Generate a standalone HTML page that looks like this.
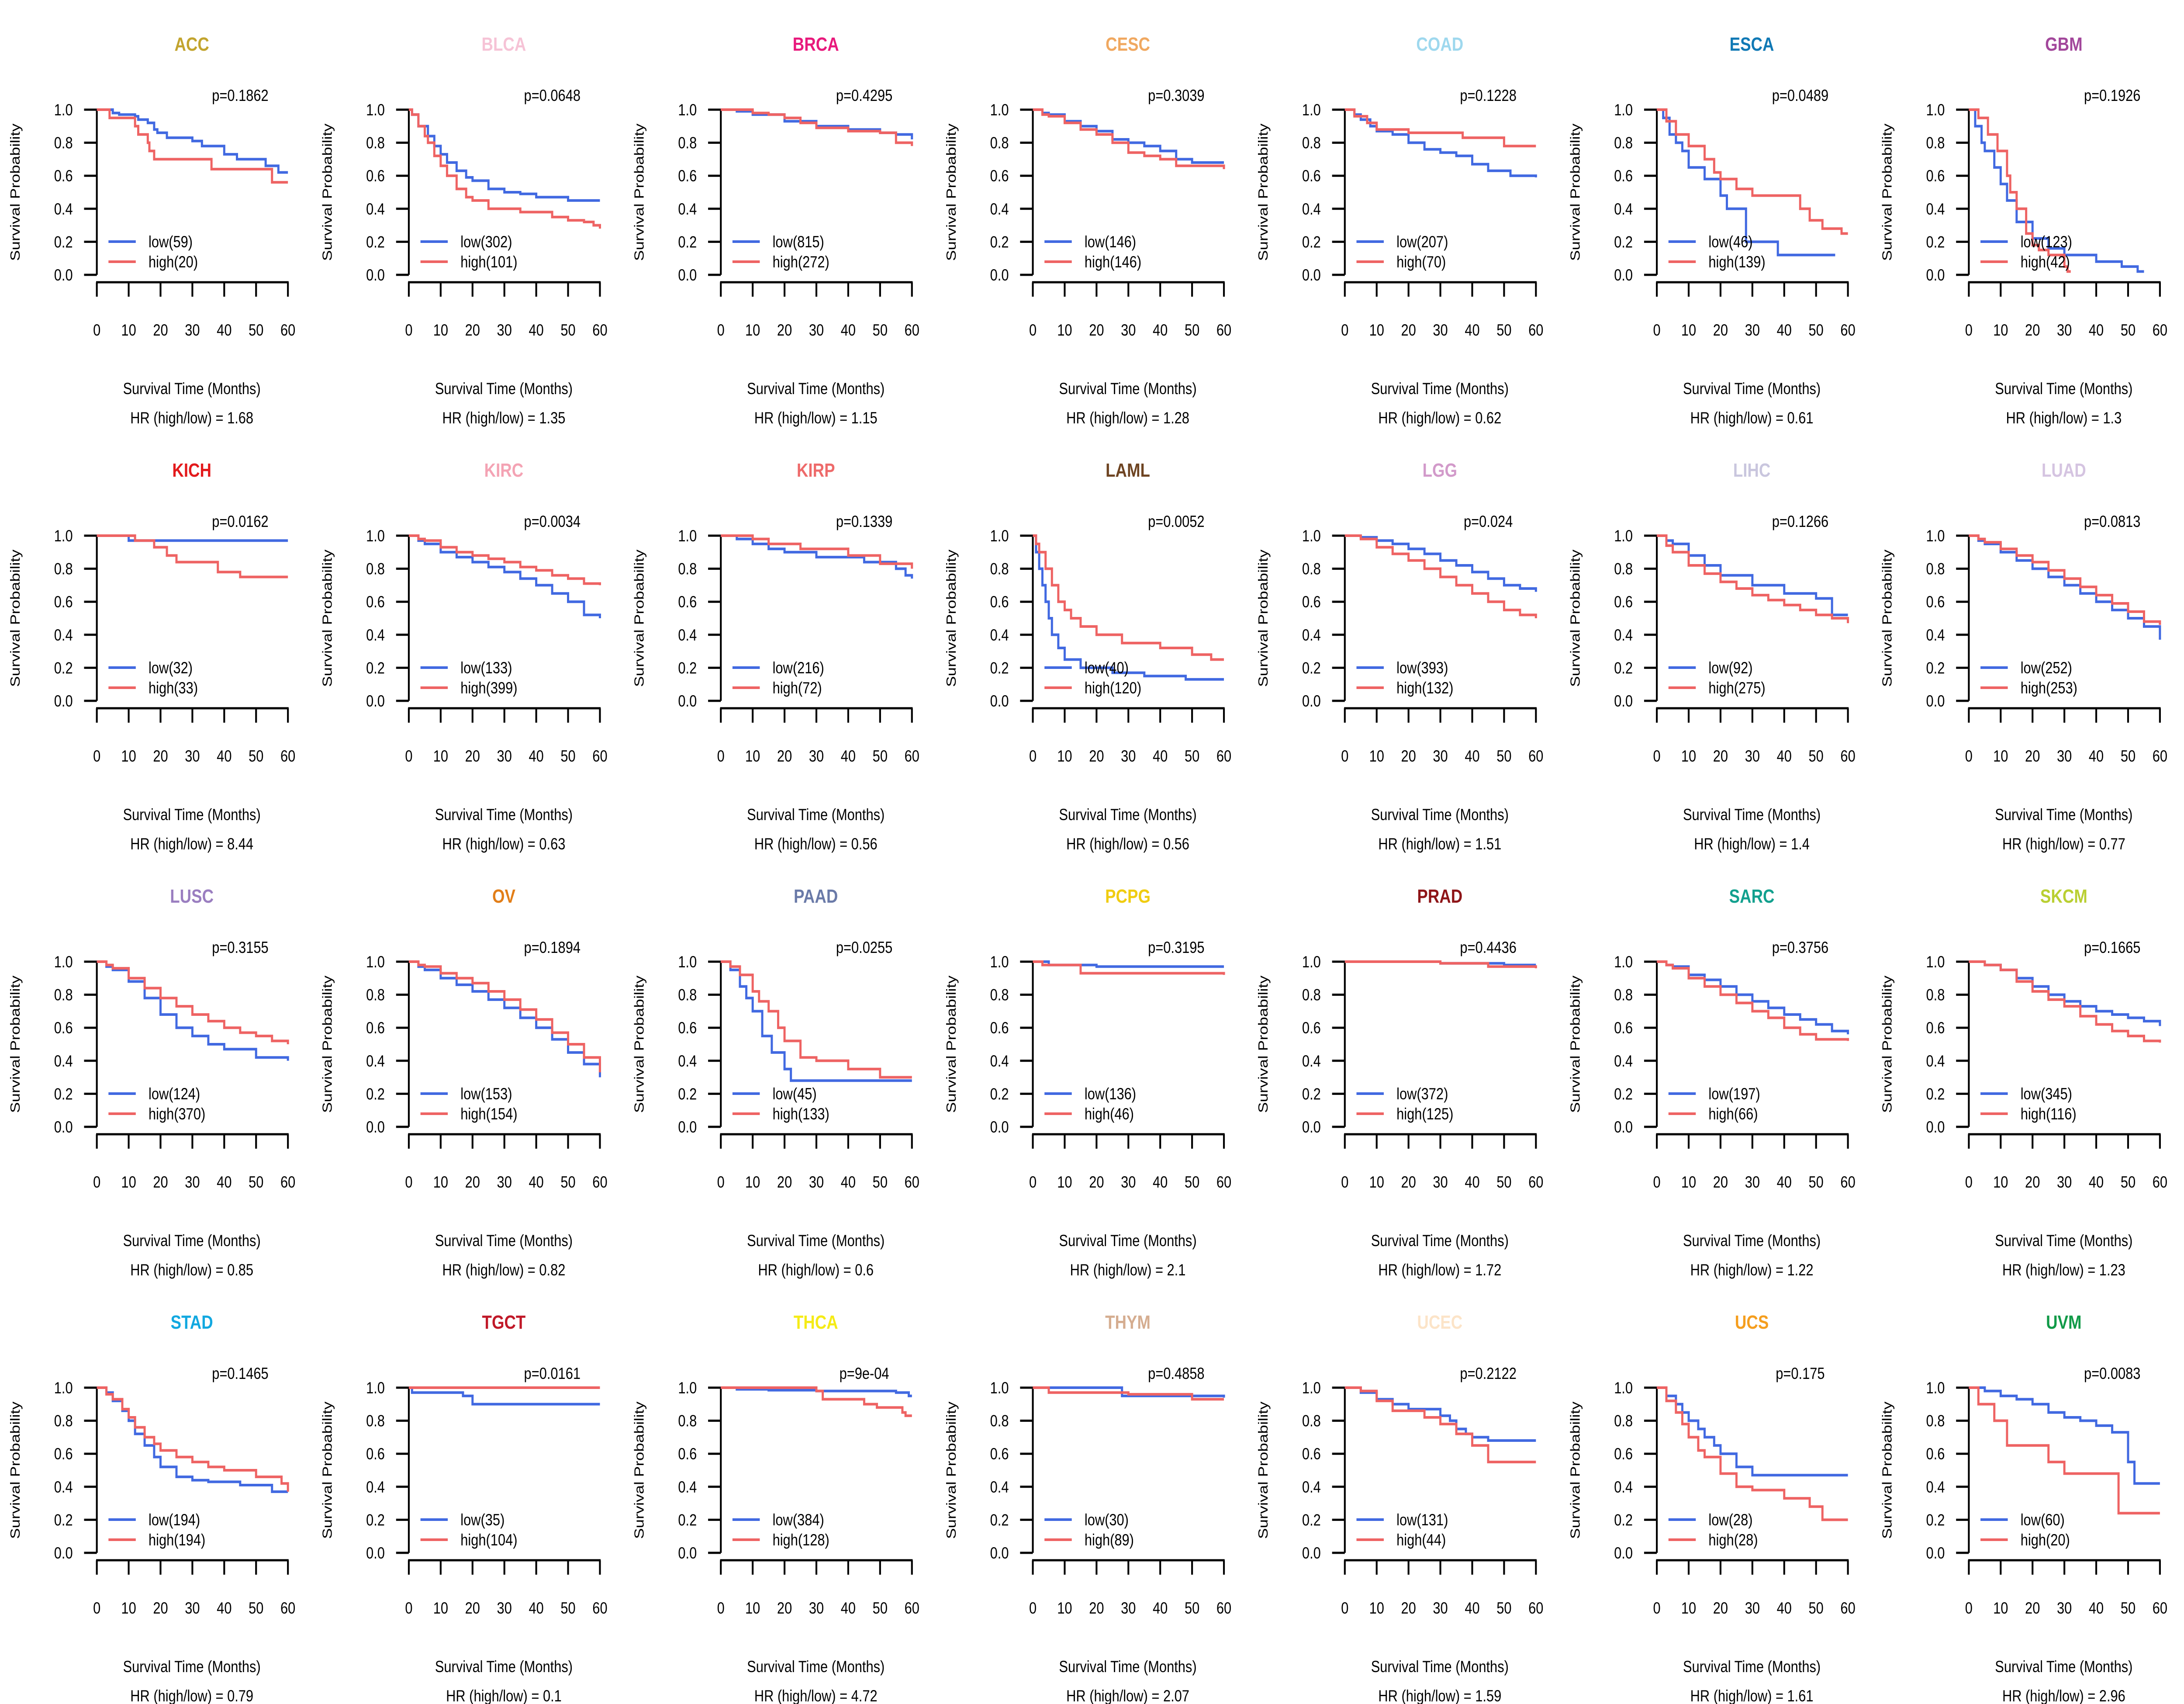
<!DOCTYPE html>
<html><head><meta charset="utf-8">
<style>
html,body{margin:0;padding:0;background:#fff;overflow:hidden;width:100%;height:100%;}
svg{display:block;width:100vw;height:100vh;font-family:"Liberation Sans",Arial,sans-serif;}
</style></head>
<body>
<svg id="chart" xmlns="http://www.w3.org/2000/svg" viewBox="0 0 6000 3900" preserveAspectRatio="none"></svg>
<script>
const cancers=["ACC","BLCA","BRCA","CESC","COAD","ESCA","GBM","KICH","KIRC","KIRP","LAML","LGG","LIHC","LUAD","LUSC","OV","PAAD","PCPG","PRAD","SARC","SKCM","STAD","TGCT","THCA","THYM","UCEC","UCS","UVM"];
const titleColors=["#C2A42E","#F6C3D6","#E8197C","#F0A860","#9ED8EE","#1079B5","#A2479B","#E31A1C","#F4A3B4","#EE6A6A","#6E4422","#D29ACA","#C9C6DE","#D5C4E1","#9A7EC0","#E27E18","#6A7AA8","#F0CC10","#8E1518","#12A08E","#B9CF32","#12A8E0","#C01828","#F5EB16","#D5AD90","#FCE4C8","#F59E1E","#119A48"];
const pvals=["p=0.1862","p=0.0648","p=0.4295","p=0.3039","p=0.1228","p=0.0489","p=0.1926","p=0.0162","p=0.0034","p=0.1339","p=0.0052","p=0.024","p=0.1266","p=0.0813","p=0.3155","p=0.1894","p=0.0255","p=0.3195","p=0.4436","p=0.3756","p=0.1665","p=0.1465","p=0.0161","p=9e-04","p=0.4858","p=0.2122","p=0.175","p=0.0083"];
const hrs=["1.68","1.35","1.15","1.28","0.62","0.61","1.3","8.44","0.63","0.56","0.56","1.51","1.4","0.77","0.85","0.82","0.6","2.1","1.72","1.22","1.23","0.79","0.1","4.72","2.07","1.59","1.61","2.96"];
const nLow=[59,302,815,146,207,46,123,32,133,216,40,393,92,252,124,153,45,136,372,197,345,194,35,384,30,131,28,60];
const nHigh=[20,101,272,146,70,139,42,33,399,72,120,132,275,253,370,154,133,46,125,66,116,194,104,128,89,44,28,20];
const xTicks=[0,10,20,30,40,50,60];
const yTicks=[0,0.2,0.4,0.6,0.8,1.0];
const lowCurves=[
[[5,.98],[7,.97],[12,.96],[13,.94],[16,.92],[18,.88],[19,.86],[22,.83],[30,.81],[33,.78],[40,.73],[44,.70],[53,.66],[57,.62],[60,.62]],
[[1,.97],[3,.90],[6,.84],[8,.78],[10,.73],[12,.68],[15,.63],[18,.59],[20,.57],[25,.52],[30,.50],[35,.49],[40,.47],[50,.45],[60,.45]],
[[5,.99],[10,.97],[20,.93],[30,.90],[40,.88],[50,.86],[55,.85],[60,.82]],
[[3,.98],[5,.97],[10,.93],[15,.90],[20,.87],[25,.82],[30,.80],[35,.78],[40,.75],[45,.70],[50,.68],[60,.68]],
[[3,.97],[5,.94],[8,.90],[10,.87],[15,.85],[20,.80],[25,.76],[30,.74],[35,.72],[40,.67],[45,.63],[52,.60],[60,.59]],
[[2,.95],[4,.85],[6,.80],[8,.75],[10,.65],[15,.58],[20,.48],[22,.40],[28,.20],[38,.12],[56,.12]],
[[2,.90],[4,.80],[5,.75],[8,.65],[10,.55],[12,.45],[15,.32],[20,.22],[25,.16],[30,.12],[40,.08],[48,.05],[53,.02],[55,.02]],
[[10,.97],[60,.97]],
[[3,.97],[5,.95],[10,.90],[15,.87],[20,.84],[25,.81],[30,.78],[35,.74],[40,.70],[45,.65],[50,.60],[55,.52],[60,.50]],
[[5,.98],[10,.95],[15,.92],[20,.90],[30,.87],[45,.84],[55,.80],[58,.76],[60,.74]],
[[1,.90],[2,.80],[3,.70],[4,.60],[5,.50],[6,.40],[8,.32],[10,.25],[15,.20],[25,.17],[35,.15],[48,.13],[60,.13]],
[[5,.99],[10,.97],[15,.95],[20,.92],[25,.89],[30,.85],[35,.82],[40,.78],[45,.74],[50,.70],[55,.68],[60,.66]],
[[3,.97],[5,.95],[10,.88],[15,.82],[20,.76],[30,.70],[40,.65],[50,.62],[55,.52],[60,.52]],
[[3,.97],[5,.95],[10,.90],[15,.85],[20,.80],[25,.75],[30,.70],[35,.65],[40,.60],[45,.55],[50,.50],[55,.45],[60,.37]],
[[3,.97],[5,.95],[10,.88],[15,.78],[20,.68],[25,.60],[30,.55],[35,.50],[40,.47],[50,.42],[60,.40]],
[[3,.97],[5,.95],[10,.90],[15,.86],[20,.82],[25,.77],[30,.72],[35,.66],[40,.60],[45,.53],[50,.45],[55,.38],[60,.30]],
[[3,.95],[6,.85],[8,.78],[10,.70],[13,.55],[16,.45],[20,.35],[22,.28],[60,.28]],
[[5,.98],[20,.97],[60,.97]],
[[30,.99],[50,.98],[60,.98]],
[[3,.98],[5,.97],[10,.92],[15,.89],[20,.85],[25,.80],[30,.76],[35,.72],[40,.68],[45,.65],[50,.62],[55,.58],[60,.56]],
[[5,.98],[10,.95],[15,.90],[20,.85],[25,.80],[30,.76],[35,.73],[40,.70],[45,.68],[50,.66],[55,.64],[60,.61]],
[[3,.97],[5,.92],[8,.86],[10,.80],[12,.72],[15,.65],[18,.58],[20,.52],[25,.46],[30,.44],[35,.43],[45,.41],[55,.37],[60,.37]],
[[1,.97],[17,.95],[20,.90],[60,.90]],
[[5,.99],[15,.985],[30,.98],[40,.98],[55,.97],[59,.95],[60,.95]],
[[28,.95],[60,.94]],
[[5,.97],[10,.93],[15,.90],[20,.87],[30,.83],[33,.80],[35,.75],[38,.72],[40,.70],[45,.68],[60,.68]],
[[3,.95],[6,.90],[8,.85],[10,.80],[13,.75],[15,.70],[18,.65],[20,.60],[25,.52],[30,.47],[60,.47]],
[[5,.98],[10,.95],[15,.93],[20,.90],[25,.85],[30,.82],[35,.80],[40,.77],[45,.73],[50,.55],[52,.42],[60,.42]]
];
const highCurves=[
[[4,.95],[12,.90],[13,.85],[16,.80],[16.5,.75],[18,.70],[36,.64],[55,.56],[60,.56]],
[[1,.97],[3,.90],[5,.84],[6,.80],[8,.72],[10,.66],[12,.60],[15,.52],[18,.47],[20,.45],[25,.40],[35,.38],[45,.35],[50,.33],[55,.32],[58,.30],[60,.28]],
[[10,.98],[15,.97],[20,.95],[25,.92],[30,.89],[40,.87],[50,.86],[55,.80],[60,.78]],
[[3,.97],[5,.96],[10,.92],[15,.88],[20,.85],[25,.80],[30,.74],[35,.72],[40,.70],[45,.66],[60,.64]],
[[3,.96],[7,.92],[10,.88],[20,.86],[37,.83],[50,.78],[60,.78]],
[[3,.93],[6,.85],[10,.78],[15,.70],[18,.62],[20,.58],[25,.52],[30,.48],[45,.40],[48,.33],[52,.28],[58,.25],[60,.25]],
[[3,.95],[6,.85],[9,.75],[12,.60],[13,.50],[15,.40],[18,.25],[20,.18],[22,.15],[25,.12],[30,.05],[31,.02],[32,.02]],
[[12,.97],[18,.93],[22,.88],[25,.84],[38,.78],[45,.75],[60,.75]],
[[3,.98],[5,.97],[10,.93],[15,.90],[20,.88],[25,.86],[30,.84],[35,.81],[40,.79],[45,.76],[50,.74],[55,.71],[60,.70]],
[[10,.98],[15,.95],[25,.92],[40,.88],[50,.83],[60,.80]],
[[1,.95],[2,.90],[4,.80],[6,.70],[8,.60],[10,.55],[12,.50],[15,.45],[20,.40],[28,.35],[40,.32],[50,.28],[56,.25],[60,.25]],
[[5,.98],[10,.93],[15,.89],[20,.85],[25,.80],[30,.75],[35,.70],[40,.65],[45,.60],[50,.55],[55,.52],[60,.50]],
[[3,.94],[5,.90],[10,.82],[15,.77],[20,.72],[25,.68],[30,.64],[35,.61],[40,.58],[45,.55],[50,.52],[55,.50],[60,.47]],
[[3,.98],[5,.96],[10,.92],[15,.88],[20,.84],[25,.79],[30,.74],[35,.69],[40,.64],[45,.59],[50,.54],[55,.48],[60,.46]],
[[3,.98],[5,.96],[10,.90],[15,.84],[20,.78],[25,.73],[30,.68],[35,.64],[40,.60],[45,.57],[50,.55],[55,.52],[60,.50]],
[[3,.98],[5,.97],[10,.93],[15,.90],[20,.87],[25,.82],[30,.77],[35,.71],[40,.65],[45,.57],[50,.50],[55,.42],[60,.33]],
[[3,.97],[6,.92],[10,.82],[12,.76],[15,.70],[18,.60],[20,.52],[25,.42],[30,.40],[40,.35],[50,.30],[60,.30]],
[[3,.98],[15,.93],[60,.92]],
[[30,.99],[45,.97],[60,.96]],
[[3,.98],[5,.96],[10,.90],[15,.85],[20,.80],[25,.75],[30,.70],[35,.66],[40,.60],[45,.56],[50,.53],[60,.52]],
[[5,.98],[10,.95],[15,.88],[20,.82],[25,.77],[30,.73],[35,.67],[40,.62],[45,.58],[50,.55],[55,.52],[60,.51]],
[[3,.96],[5,.93],[8,.87],[10,.82],[12,.76],[15,.70],[18,.66],[20,.62],[25,.58],[30,.55],[35,.52],[40,.50],[50,.46],[58,.42],[60,.37]],
[[60,1.0]],
[[30,.98],[32,.93],[45,.90],[49,.88],[57,.85],[58,.83],[60,.83]],
[[5,.97],[30,.96],[50,.93],[60,.93]],
[[5,.98],[10,.92],[15,.86],[25,.82],[30,.78],[35,.72],[40,.65],[45,.55],[60,.55]],
[[3,.92],[6,.85],[8,.78],[10,.70],[13,.62],[15,.58],[20,.48],[25,.40],[30,.38],[40,.33],[48,.28],[52,.20],[60,.20]],
[[3,.90],[8,.80],[12,.65],[25,.55],[30,.48],[45,.48],[47,.24],[60,.24]]
];

const NS="http://www.w3.org/2000/svg";
const svg=document.getElementById('chart');
const colW=6000/7, rowH=975;
const PX0=266, PX1=791, PY1=251, PY0=629;
function mk(tag,attrs,parent,text){const e=document.createElementNS(NS,tag);for(const k in attrs)e.setAttribute(k,attrs[k]);if(text!==undefined)e.textContent=text;parent.appendChild(e);return e;}
function xScale(t){return PX0+(t/60)*(PX1-PX0);}
function yScale(s){return PY0-s*(PY0-PY1);}
function stepPath(pts){let d='M'+xScale(0)+' '+yScale(1);for(const p of pts){d+=' H'+xScale(p[0]).toFixed(1)+' V'+yScale(p[1]).toFixed(1);}return d;}

cancers.forEach((c,i)=>{
  const col=i%7,row=Math.floor(i/7);
  const g=mk('g',{transform:'translate('+(col*colW).toFixed(2)+','+(row*rowH)+')'},svg);
  
  
  const t=mk('text',{x:527,y:116,'text-anchor':'middle','font-size':44,'font-weight':'bold',fill:titleColors[i]},g,c);
  
  
  const p=mk('text',{x:660,y:231,'text-anchor':'middle','font-size':37,fill:'#000'},g,pvals[i]);
  
  
  const ya=mk('g',{},g);
  
  
  mk('line',{x1:PX0,y1:PY1,x2:PX0,y2:PY0,stroke:'#000','stroke-width':5},ya);
  yTicks.forEach(v=>{
    mk('line',{x1:231,y1:yScale(v),x2:PX0,y2:yScale(v),stroke:'#000','stroke-width':5},ya);
    const tl=mk('text',{x:200,y:yScale(v)+13,'text-anchor':'end','font-size':37},ya,v.toFixed(1));
    
    
  });
  const xa=mk('g',{},g);
  
  
  mk('line',{x1:PX0-2,y1:646,x2:PX1+2,y2:646,stroke:'#000','stroke-width':5},xa);
  xTicks.forEach(v=>{
    mk('line',{x1:xScale(v),y1:646,x2:xScale(v),y2:679,stroke:'#000','stroke-width':5},xa);
    const tl=mk('text',{x:xScale(v),y:768,'text-anchor':'middle','font-size':37},xa,String(v));
    
    
  });
  const yl=mk('text',{x:0,y:0,transform:'translate(54,440) rotate(-90)','text-anchor':'middle','font-size':37},g,'Survival Probability');
  
  
  const xl=mk('text',{x:527,y:902,'text-anchor':'middle','font-size':37},g,'Survival Time (Months)');
  
  
  const hr=mk('text',{x:527,y:969,'text-anchor':'middle','font-size':37},g,'HR (high/low) =  '+hrs[i]);
  
  
  const lc=mk('path',{d:stepPath(lowCurves[i]),fill:'none',stroke:'#4169E1','stroke-width':6},g);
  
  
  const hc=mk('path',{d:stepPath(highCurves[i]),fill:'none',stroke:'#EE6363','stroke-width':6},g);
  
  
  const lg=mk('g',{},g);
  
  
  mk('line',{x1:298,y1:553,x2:373,y2:553,stroke:'#4169E1','stroke-width':6},lg);
  const l1=mk('text',{x:408,y:566,'font-size':37},lg,'low('+nLow[i]+')');
  
  
  mk('line',{x1:298,y1:599,x2:373,y2:599,stroke:'#EE6363','stroke-width':6},lg);
  const l2=mk('text',{x:408,y:612,'font-size':37},lg,'high('+nHigh[i]+')');
  
  
});
</script>
</body></html>
